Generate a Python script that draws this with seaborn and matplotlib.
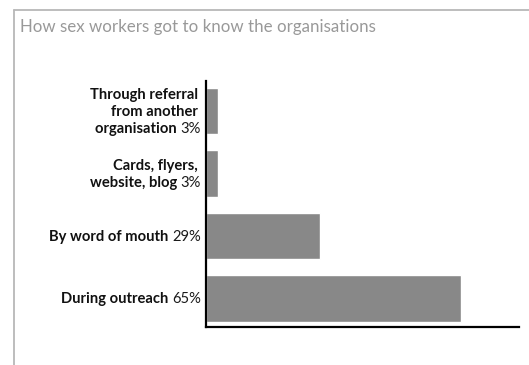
import matplotlib
matplotlib.use("Agg")
import matplotlib.pyplot as plt
from matplotlib.lines import Line2D
import seaborn as sns
import pandas as pd

# Survey answers: how sex workers got to know the organisations
categories = [
    "Through referral\nfrom another\norganisation",
    "Cards, flyers,\nwebsite, blog",
    "By word of mouth",
    "During outreach",
]
percentages = [3, 3, 29, 65]
title = "How sex workers got to know the organisations"

sns.set_theme(style="white")
plt.rcParams["font.family"] = ["Lato", "DejaVu Sans"]

W, H = 529, 365
PT = 72 / 100  # points per pixel at 100 dpi
fig = plt.figure(figsize=(W / 100, H / 100), dpi=100)
ax = fig.add_axes([206 / W, 1 - 327 / H, (519 - 206) / W, (327 - 81) / H])

df = pd.DataFrame({"category": categories, "pct": percentages})
sns.barplot(data=df, y="category", x="pct", orient="h", color="#888888",
            saturation=1, width=0.74, ax=ax)

ax.set_xlim(0, 79.8)
ax.set_ylim(3.456, -0.48)
ax.set_xlabel("")
ax.set_ylabel("")
ax.set_xticks([])
ax.set_yticks([])
for side in ("top", "right"):
    ax.spines[side].set_visible(False)
for side in ("left", "bottom"):
    ax.spines[side].set_color("black")
    ax.spines[side].set_linewidth(1.6)

# Category labels: bold description, regular percentage on the last line
FS = 10.6
LINE = 17      # line pitch in pixels
CAP = 9.5      # cap height in pixels
for i, (cat, pct) in enumerate(zip(categories, percentages)):
    lines = cat.split("\n")
    n = len(lines)
    for k, line in enumerate(lines):
        dy = (((n - 1) / 2 - k) * LINE - CAP / 2) * PT
        if k == n - 1:
            p = ax.annotate(f"{pct}%", xy=(0, i), xycoords=("axes fraction", "data"),
                            xytext=(-5 * PT, dy), textcoords="offset points",
                            ha="right", va="baseline", fontsize=FS, color="#1a1a1a")
            ax.annotate(line + " ", xy=(0, 0), xycoords=p,
                        ha="right", va="bottom", fontsize=FS,
                        fontweight="bold", color="#111111")
        else:
            ax.annotate(line, xy=(0, i), xycoords=("axes fraction", "data"),
                        xytext=(-8 * PT, dy), textcoords="offset points",
                        ha="right", va="baseline", fontsize=FS,
                        fontweight="bold", color="#111111")

# Title and light frame around the panel
fig.text(20 / W, 1 - 32 / H, title, ha="left", va="baseline",
         fontsize=12.2, color="#999999")
frame_color = "#b8b8b8"
fig.add_artist(Line2D([14 / W, 14 / W], [0, 1 - 10 / H], transform=fig.transFigure,
                      color=frame_color, lw=1.3))
fig.add_artist(Line2D([14 / W, 1], [1 - 10 / H, 1 - 10 / H], transform=fig.transFigure,
                      color=frame_color, lw=1.3))

fig.savefig("out.png", dpi=100)
